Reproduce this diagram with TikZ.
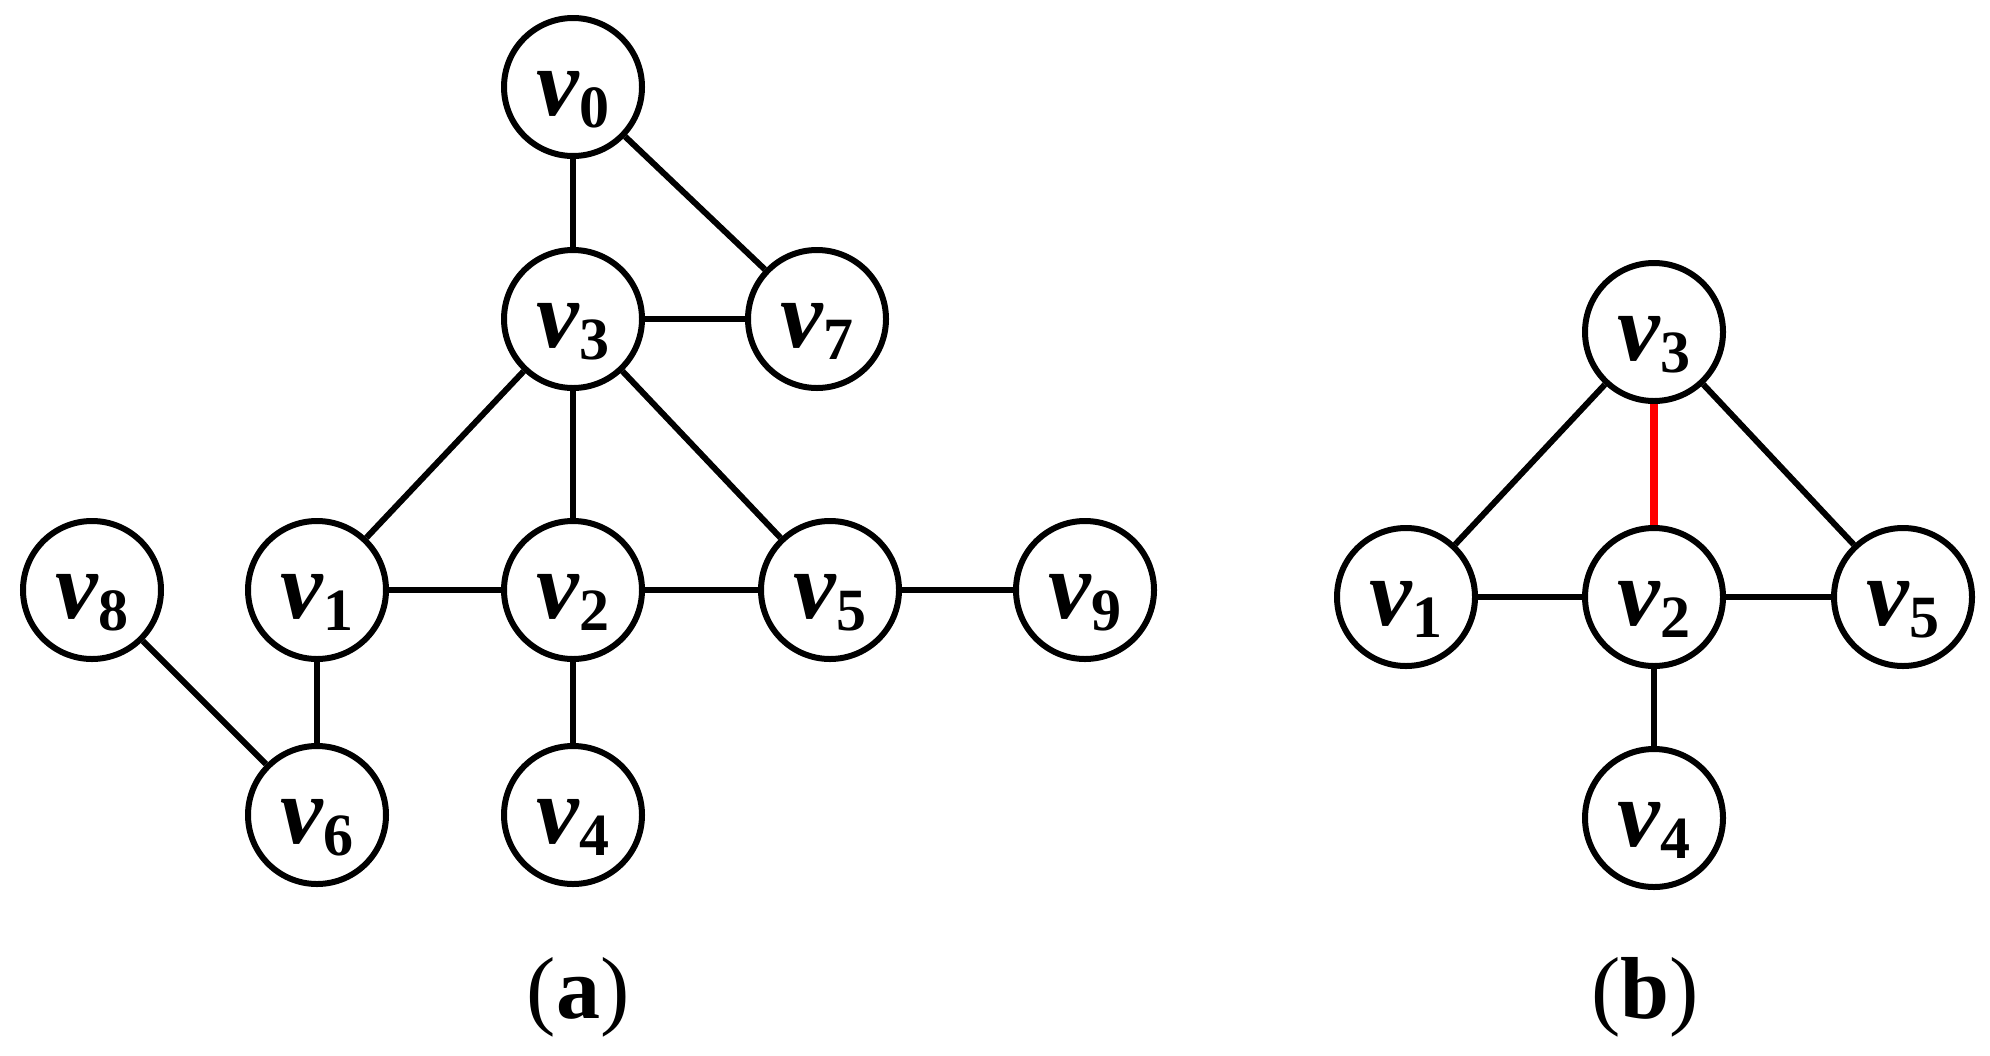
\documentclass[tikz,border=0pt]{standalone}
\usepackage{fontspec}
\setmainfont{Liberation Serif}
\newcommand{\vlab}[1]{{\fontsize{48}{52}\selectfont\bfseries\itshape v}\raisebox{-6pt}{\fontsize{30}{32}\selectfont\bfseries\upshape #1}}
\newcommand{\capt}[1]{{\mdseries(}\textbf{#1}{\mdseries)}}
\begin{document}
\begin{tikzpicture}[x=0.5pt,y=-0.5pt,
  vtx/.style={circle,draw=black,line width=3pt,fill=white,inner sep=0pt,
    minimum size=69pt,text height=28pt,text depth=0pt},
  edge/.style={draw=black,line width=3pt},
  redge/.style={draw=red,line width=4pt},
  captext/.style={font=\fontsize{44}{48}\selectfont,anchor=base}]
\fill[white] (0,0) rectangle (1990,1055);
\useasboundingbox (0,0) rectangle (1990,1055);
% panel (a)
\node[vtx] (a0) at (573,87) {\vlab{0}};
\node[vtx] (a3) at (573,319) {\vlab{3}};
\node[vtx] (a7) at (817,319) {\vlab{7}};
\node[vtx] (a8) at (92,590) {\vlab{8}};
\node[vtx] (a1) at (317,590) {\vlab{1}};
\node[vtx] (a2) at (573,590) {\vlab{2}};
\node[vtx] (a5) at (830,590) {\vlab{5}};
\node[vtx] (a9) at (1085,590) {\vlab{9}};
\node[vtx] (a6) at (317,815) {\vlab{6}};
\node[vtx] (a4) at (573,815) {\vlab{4}};
\draw[edge] (a0) -- (a3);
\draw[edge] (a0) -- (a7);
\draw[edge] (a3) -- (a7);
\draw[edge] (a3) -- (a1);
\draw[edge] (a3) -- (a2);
\draw[edge] (a3) -- (a5);
\draw[edge] (a1) -- (a2);
\draw[edge] (a2) -- (a5);
\draw[edge] (a5) -- (a9);
\draw[edge] (a1) -- (a6);
\draw[edge] (a8) -- (a6);
\draw[edge] (a2) -- (a4);
\node[captext] (capa) at (578,1018) {\capt{a}};
% panel (b)
\node[vtx] (b3) at (1654,332) {\vlab{3}};
\node[vtx] (b1) at (1406,597) {\vlab{1}};
\node[vtx] (b2) at (1654,597) {\vlab{2}};
\node[vtx] (b5) at (1903,597) {\vlab{5}};
\node[vtx] (b4) at (1654,818) {\vlab{4}};
\draw[edge] (b3) -- (b1);
\draw[edge] (b3) -- (b5);
\draw[redge] (b3) -- (b2);
\draw[edge] (b1) -- (b2);
\draw[edge] (b2) -- (b5);
\draw[edge] (b2) -- (b4);
\node[captext] (capb) at (1645,1018) {\capt{b}};
\end{tikzpicture}
\end{document}
